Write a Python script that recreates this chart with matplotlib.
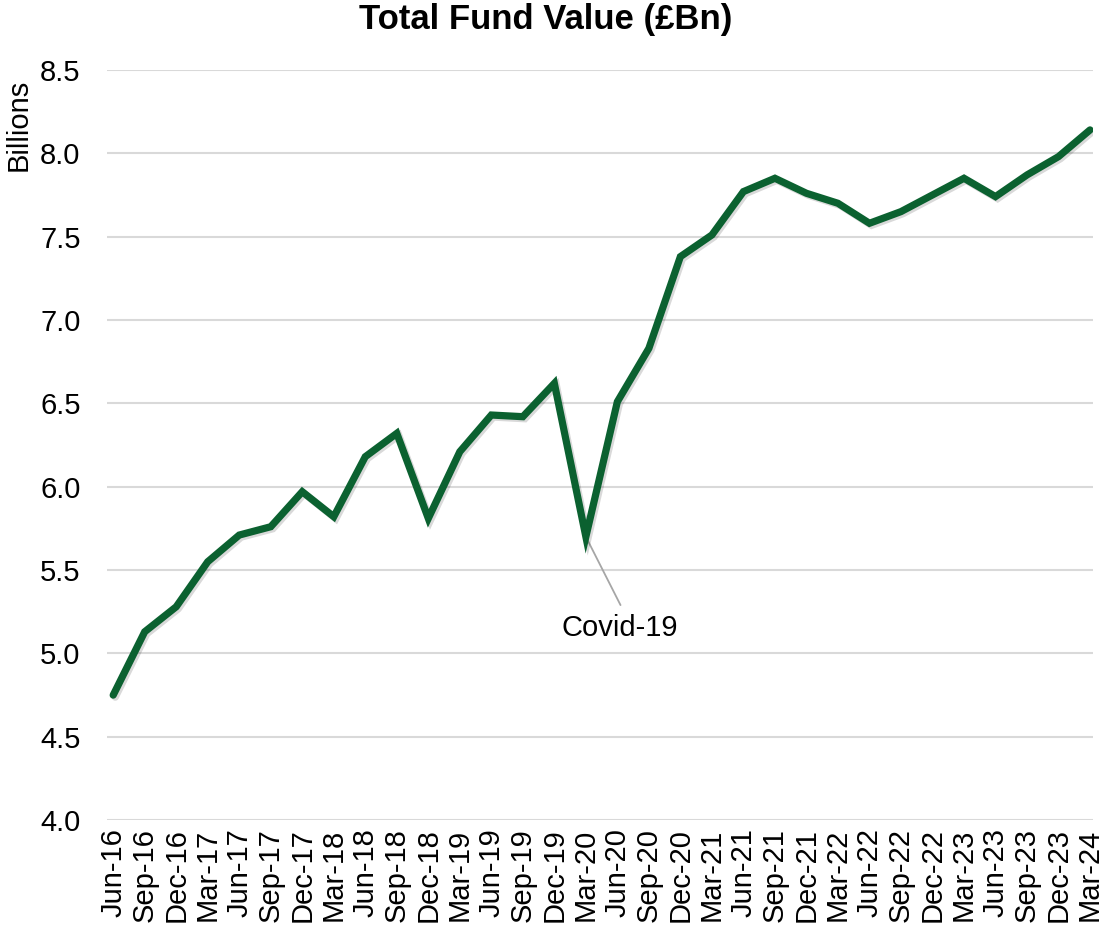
import matplotlib.pyplot as plt
import matplotlib.patheffects as pe

# ===== 数据 =====
quarters = ['Jun-16', 'Sep-16', 'Dec-16', 'Mar-17', 'Jun-17', 'Sep-17', 'Dec-17', 'Mar-18',
            'Jun-18', 'Sep-18', 'Dec-18', 'Mar-19', 'Jun-19', 'Sep-19', 'Dec-19', 'Mar-20',
            'Jun-20', 'Sep-20', 'Dec-20', 'Mar-21', 'Jun-21', 'Sep-21', 'Dec-21', 'Mar-22',
            'Jun-22', 'Sep-22', 'Dec-22', 'Mar-23', 'Jun-23', 'Sep-23', 'Dec-23', 'Mar-24']
fund_value = [4.75, 5.13, 5.28, 5.55, 5.71, 5.76, 5.97, 5.82,
              6.18, 6.32, 5.81, 6.21, 6.43, 6.42, 6.62, 5.70,
              6.51, 6.83, 7.38, 7.51, 7.77, 7.85, 7.76, 7.70,
              7.58, 7.65, 7.75, 7.85, 7.74, 7.87, 7.98, 8.14]
y_ticks = [4.0, 4.5, 5.0, 5.5, 6.0, 6.5, 7.0, 7.5, 8.0, 8.5]

# ===== 样式 =====
LINE_COLOR = '#0B6130'
GRID_COLOR = '#D9D9D9'
plt.rcParams['font.family'] = ['Liberation Sans', 'DejaVu Sans']

fig = plt.figure(figsize=(11.02, 9.32), dpi=100)
ax = fig.add_axes([0.097, 0.12, 0.895, 0.805])

x = list(range(len(quarters)))
ax.plot(x, fund_value, color=LINE_COLOR, linewidth=5.2, solid_joinstyle='miter',
        solid_capstyle='round', zorder=3,
        path_effects=[pe.SimpleLineShadow(offset=(1.5, -1.5), alpha=0.15, shadow_color='black'),
                      pe.Normal()])

ax.set_ylim(4.0, 8.5)
ax.set_yticks(y_ticks)
ax.set_yticklabels([f'{v:.1f}' for v in y_ticks], fontsize=21)
ax.set_xlim(-0.2, len(quarters) - 1 + 0.1)
ax.set_xticks(x)
ax.set_xticklabels(quarters, rotation=90, fontsize=21)
ax.tick_params(axis='y', length=0, pad=19)
ax.tick_params(axis='x', length=0, pad=6)

ax.grid(axis='y', color=GRID_COLOR, linewidth=1.5)
ax.set_axisbelow(True)
for s in ax.spines.values():
    s.set_visible(False)

fig.text(0.495, 0.979, 'Total Fund Value (£Bn)', fontsize=25, fontweight='bold',
         ha='center', va='center')
fig.text(0.017, 0.866, 'Billions', rotation=90, fontsize=21, ha='center', va='center')

# Covid-19 标注
covid_idx = quarters.index('Mar-20')
ax.annotate('', xy=(covid_idx, fund_value[covid_idx]), xytext=(covid_idx + 1.1, 5.29),
            arrowprops=dict(arrowstyle='-', color='#A6A6A6', linewidth=1.3,
                            shrinkA=0, shrinkB=0), zorder=2)
ax.text(covid_idx + 1.08, 5.155, 'Covid-19', fontsize=21, ha='center', va='center')

plt.savefig('out.png', dpi=100, facecolor='white')
